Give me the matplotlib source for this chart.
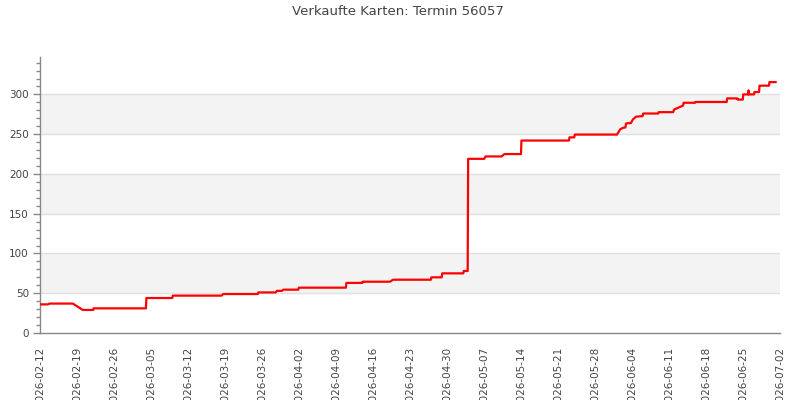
import matplotlib
matplotlib.use("Agg")
import matplotlib.pyplot as plt
import matplotlib.dates as mdates
import pandas as pd
from matplotlib.ticker import MultipleLocator

title = "Verkaufte Karten: Termin 56057"

times = [
    "2026-02-12 00:00", "2026-02-13 12:00", "2026-02-13 21:00", "2026-02-18 05:00",
    "2026-02-20 02:00", "2026-02-22 02:00", "2026-02-22 03:00", "2026-03-04 01:00",
    "2026-03-04 03:00", "2026-03-09 01:00", "2026-03-09 03:00", "2026-03-18 09:00",
    "2026-03-18 15:00", "2026-03-25 05:00", "2026-03-25 07:00", "2026-03-28 14:00",
    "2026-03-28 20:00", "2026-03-29 19:00", "2026-03-30 01:00", "2026-04-01 21:00",
    "2026-04-01 23:00", "2026-04-10 21:00", "2026-04-10 23:00", "2026-04-13 23:00",
    "2026-04-14 01:00", "2026-04-19 05:00", "2026-04-19 19:00", "2026-04-26 23:00",
    "2026-04-27 01:00", "2026-04-29 00:00", "2026-04-29 02:00", "2026-05-03 02:00",
    "2026-05-03 04:00", "2026-05-03 22:00", "2026-05-04 00:00", "2026-05-07 01:00",
    "2026-05-07 07:00", "2026-05-10 08:00", "2026-05-10 21:00", "2026-05-14 00:00",
    "2026-05-14 02:00", "2026-05-23 02:00", "2026-05-23 04:00", "2026-05-24 02:00",
    "2026-05-24 04:00", "2026-06-01 04:00", "2026-06-01 18:00", "2026-06-02 07:00",
    "2026-06-02 18:00", "2026-06-02 21:00", "2026-06-03 19:00", "2026-06-04 04:00",
    "2026-06-04 18:00", "2026-06-06 00:00", "2026-06-06 03:00", "2026-06-08 23:00",
    "2026-06-09 01:00", "2026-06-11 19:00", "2026-06-11 23:00", "2026-06-13 16:00",
    "2026-06-13 18:00", "2026-06-15 22:00", "2026-06-16 00:00", "2026-06-21 22:00",
    "2026-06-22 00:00", "2026-06-23 22:00", "2026-06-24 00:00", "2026-06-24 23:00",
    "2026-06-25 01:00", "2026-06-26 00:00", "2026-06-26 01:00", "2026-06-26 02:00",
    "2026-06-27 02:00", "2026-06-27 04:00", "2026-06-28 01:00", "2026-06-28 03:00",
    "2026-06-29 22:00", "2026-06-30 00:00", "2026-07-01 04:00",
]
sold = [
    36, 36, 37, 37,
    29, 29, 31, 31,
    44, 44, 47, 47,
    49, 49, 51, 51,
    53, 53, 54.5, 54.5,
    57, 57, 63, 63,
    64.5, 64.5, 67, 67,
    70, 70, 75, 75,
    78, 78, 219, 219,
    222, 222, 225, 225,
    242, 242, 246, 246,
    249.5, 249.5, 256, 258,
    258.5, 263.5, 264, 268.5,
    272, 272.7, 276, 276,
    277.7, 277.7, 281, 286,
    289.5, 289.5, 290.5, 290.5,
    295, 295, 293.5, 293.5,
    300, 300, 305, 300,
    300, 303, 303, 311,
    311, 315.5, 315.5,
]

tick_dates = pd.date_range("2026-02-12", "2026-07-02", freq="7D")

fig = plt.figure(figsize=(8, 4), dpi=100)
ax = fig.add_axes([0.05, 0.1675, 0.925, 0.69])

x = pd.to_datetime(times)
ax.plot(x, sold, color="#ff0000", lw=1.6, zorder=3)

ymax = max(sold) * 1.1
for lo in range(50, 300, 100):
    ax.axhspan(lo, lo + 50, color="#f3f3f3", zorder=0, lw=0)
for g in range(50, 301, 50):
    ax.axhline(g, color="#e0e0e0", lw=1, zorder=1)

ax.set_ylim(0, ymax)
ax.set_xlim(tick_dates[0], tick_dates[-1])
ax.set_xticks(tick_dates)
ax.xaxis.set_major_formatter(mdates.DateFormatter("%Y-%m-%d"))
ax.yaxis.set_major_locator(MultipleLocator(50))
ax.yaxis.set_minor_locator(MultipleLocator(10))

for s in ["top", "right"]:
    ax.spines[s].set_visible(False)
for s in ["left", "bottom"]:
    ax.spines[s].set_color("#888888")
    ax.spines[s].set_linewidth(1)

ax.tick_params(axis="x", length=0, pad=10, labelsize=7.5, labelcolor="#444444", rotation=90)
ax.tick_params(axis="y", which="major", length=5, width=1, color="#888888", pad=3,
               labelsize=7.5, labelcolor="#444444")
ax.tick_params(axis="y", which="minor", length=3, width=1, color="#888888")

fig.text(0.4975, 0.972, title, ha="center", va="center", fontsize=9.5, color="#444444")

fig.savefig("out.png", dpi=100)
